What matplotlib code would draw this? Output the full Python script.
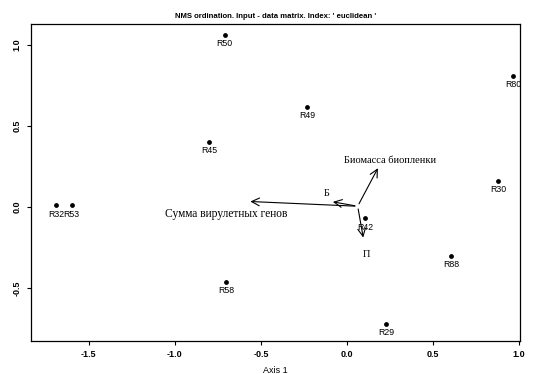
import numpy as np
import matplotlib.pyplot as plt

plt.rcParams["axes.unicode_minus"] = False

# Site scores (NMS axis 1, axis 2)
sites = ["R50", "R49", "R45", "R32", "R53", "R80", "R30", "R42", "R88", "R58", "R29"]
ax1 = [-0.71, -0.23, -0.80, -1.69, -1.60, 0.965, 0.88, 0.105, 0.605, -0.70, 0.23]
ax2 = [1.06, 0.62, 0.40, 0.01, 0.01, 0.81, 0.16, -0.07, -0.30, -0.46, -0.72]

# Environmental vectors
vec_names = ["Биомасса биопленки", "Б", "Сумма вирулетных генов", "П"]
vec_x = [0.125, -0.16, -0.64, 0.035]
vec_y = [0.25, 0.03, 0.03, -0.21]
vec_origin = (0.063, 0.005)
vec_label_pos = [(0.25, 0.29), (-0.12, 0.085), (-0.70, -0.04), (0.115, -0.29)]
vec_font = [7.5, 7.5, 8.3, 7.5]

fig = plt.figure(figsize=(5.41, 3.74), dpi=100)
ax = fig.add_axes([0.057, 0.088, 0.904, 0.848])

ax.scatter(ax1, ax2, s=6, color="black", zorder=3)
for name, x, y in zip(sites, ax1, ax2):
    ax.annotate(name, (x, y), xytext=(0, -3), textcoords="offset points",
                ha="center", va="top", fontsize=6.3, family="Liberation Sans")

ox, oy = vec_origin
for name, dx, dy, (lx, ly), fs in zip(vec_names, vec_x, vec_y, vec_label_pos, vec_font):
    ax.annotate("", xy=(ox + dx, oy + dy), xytext=(ox, oy),
                arrowprops=dict(arrowstyle="->", color="black", lw=0.8,
                                mutation_scale=14))
    ax.text(lx, ly, name, ha="center", va="center", fontsize=fs,
            family="Liberation Serif")

ax.set_xlim(-1.837, 1.006)
ax.set_ylim(-0.827, 1.13)
ax.set_xticks([-1.5, -1.0, -0.5, 0.0, 0.5, 1.0])
ax.set_yticks([-0.5, 0.0, 0.5, 1.0])
ax.tick_params(axis="both", labelsize=6.5, length=3, direction="out")
for lab in ax.get_xticklabels() + ax.get_yticklabels():
    lab.set_family("Liberation Sans")
    lab.set_fontweight("bold")
for lab in ax.get_yticklabels():
    lab.set_rotation(90)
    lab.set_va("center")
for s in ax.spines.values():
    s.set_linewidth(0.9)

ax.set_title("NMS ordination. Input - data matrix. Index: ' euclidean '",
             fontsize=5.6, fontweight="bold", family="Liberation Sans", pad=4)
ax.set_xlabel("Axis 1", fontsize=6.5, labelpad=5, family="Liberation Sans")

fig.savefig("out.png", dpi=100)
